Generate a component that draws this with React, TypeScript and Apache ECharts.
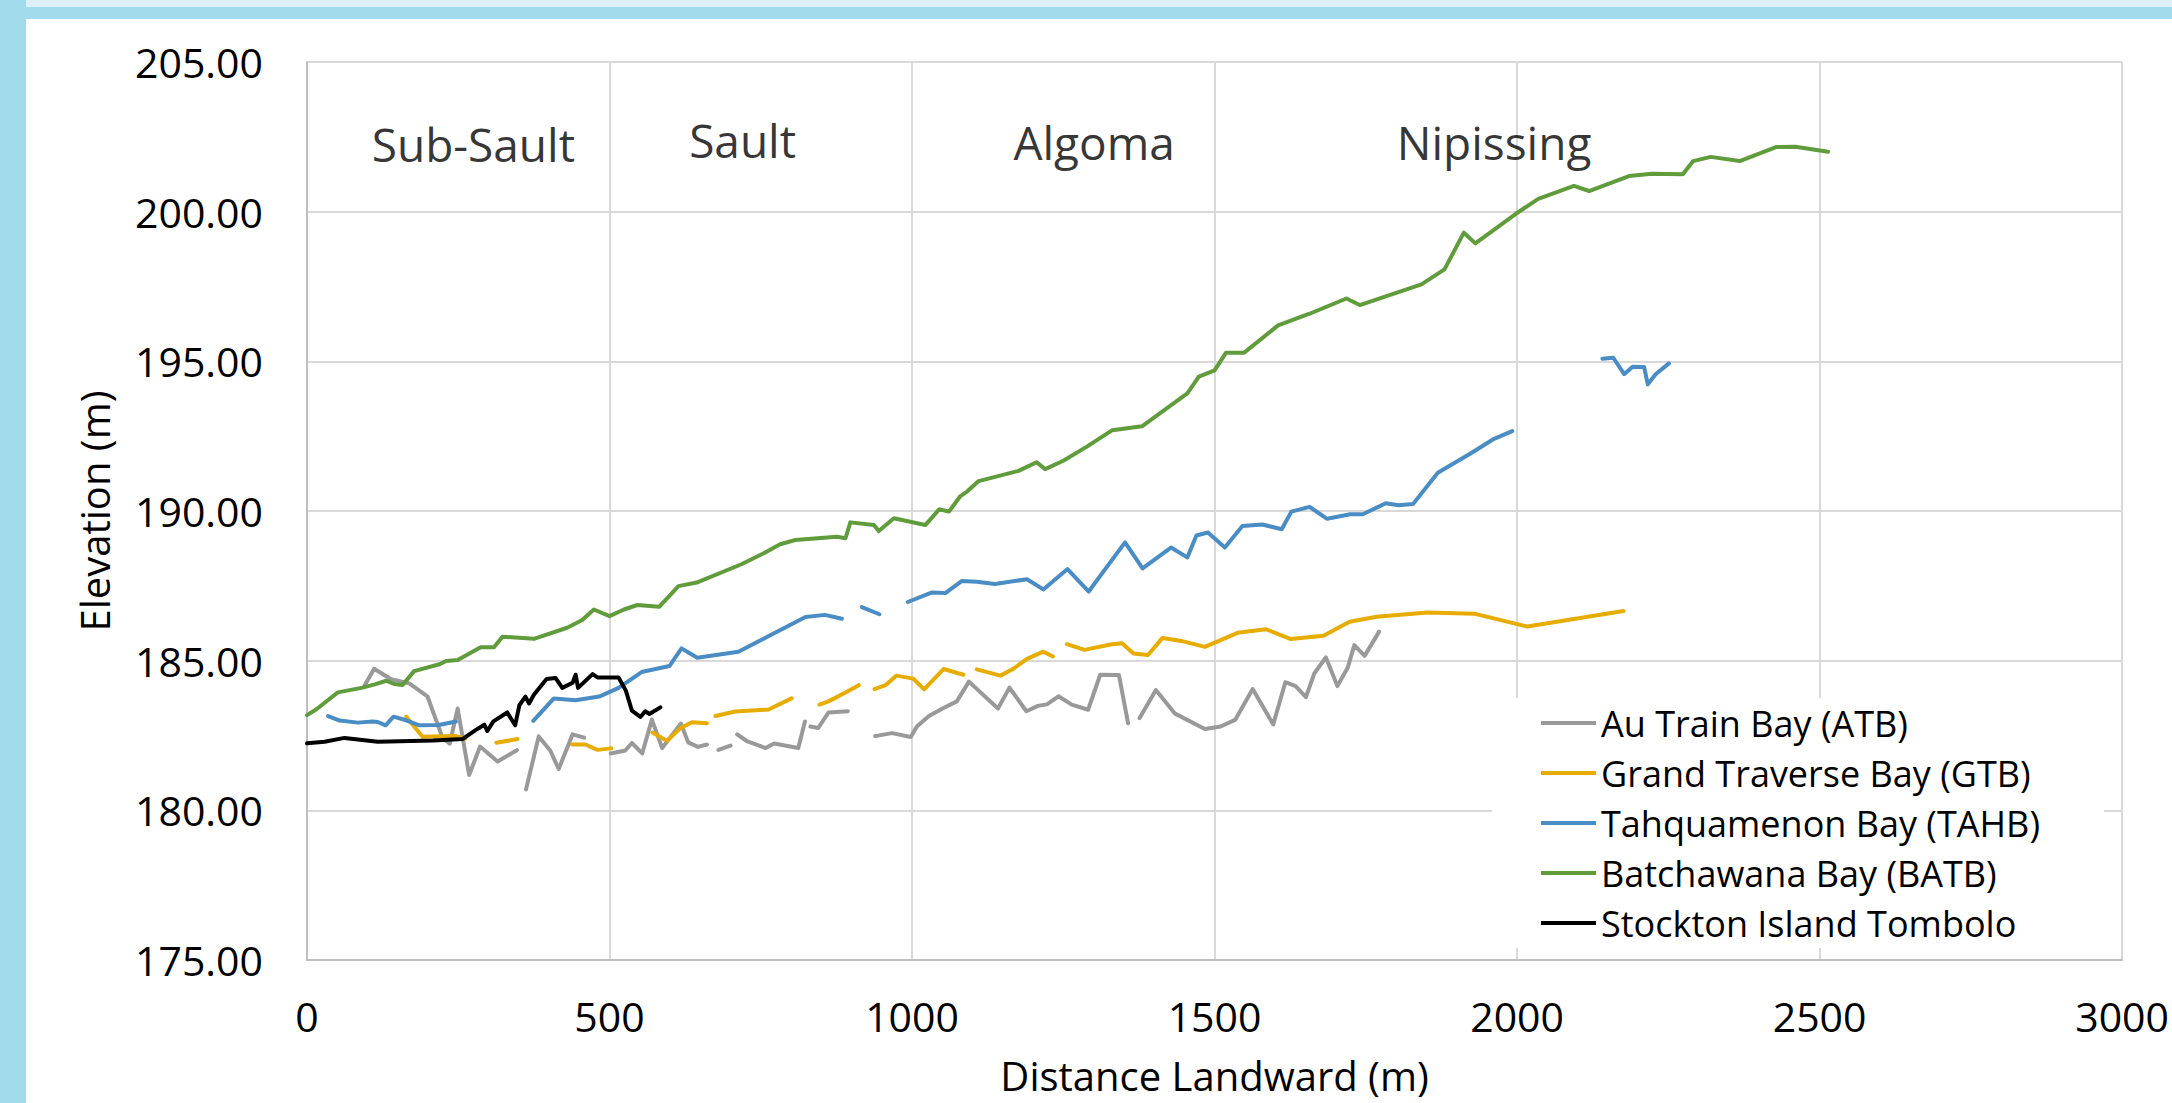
import React, { useEffect, useRef } from "react";
import * as echarts from "echarts";

// ---- data (distance landward m, elevation m); null = gap in the line ----
const ATB: ([number, number] | null)[] = [
  [94, 184.13], [111, 184.73], [139, 184.38], [169, 184.24], [199, 183.81], [224, 182.42], [236, 182.23], [249, 183.4], [268, 181.18], [286, 182.13], [315, 181.63], [347, 182.01],
  null,
  [362, 180.7], [383, 182.47], [402, 182.0], [416, 181.38], [439, 182.54], [458, 182.43],
  null,
  [502, 181.9], [526, 182.0], [537, 182.25], [554, 181.9], [570, 183.03], [587, 182.08], [618, 182.9], [630, 182.27], [646, 182.12], [661, 182.2],
  null,
  [680, 182.02], [700, 182.16],
  null,
  [711, 182.54], [728, 182.3], [758, 182.08], [772, 182.23], [812, 182.08], [823, 182.97],
  null,
  [832, 182.8], [845, 182.75], [862, 183.27], [894, 183.31],
  null,
  [939, 182.48], [967, 182.58], [998, 182.45], [1008, 182.8], [1028, 183.15], [1052, 183.42], [1074, 183.64], [1094, 184.3], [1142, 183.4], [1161, 184.1], [1189, 183.31], [1208, 183.49], [1223, 183.54], [1242, 183.81], [1264, 183.53], [1291, 183.36], [1311, 184.53], [1342, 184.52], [1357, 182.91],
  null,
  [1376, 183.08], [1403, 184.02], [1434, 183.24], [1484, 182.72], [1510, 182.8], [1534, 183.02], [1563, 184.05], [1597, 182.87], [1617, 184.28], [1634, 184.15], [1651, 183.78], [1665, 184.58], [1684, 185.11], [1703, 184.15], [1720, 184.76], [1731, 185.52], [1748, 185.16], [1772, 185.97],
];

const GTB: ([number, number] | null)[] = [
  [164, 183.13], [191, 182.46], [246, 182.48], [262, 182.4],
  null,
  [313, 182.26], [348, 182.38],
  null,
  [438, 182.2], [460, 182.2], [480, 182.02], [503, 182.07],
  null,
  [571, 182.6], [595, 182.32], [617, 182.74], [636, 182.94], [661, 182.91],
  null,
  [675, 183.15], [708, 183.3], [763, 183.37], [801, 183.74],
  null,
  [847, 183.53], [862, 183.64], [890, 183.94], [912, 184.18],
  null,
  [938, 184.05], [956, 184.18], [974, 184.5], [1002, 184.4], [1020, 184.04], [1052, 184.72], [1085, 184.53],
  null,
  [1107, 184.71], [1146, 184.5], [1166, 184.71], [1190, 185.06], [1217, 185.3], [1233, 185.14],
  null,
  [1256, 185.55], [1285, 185.36], [1328, 185.54], [1347, 185.58], [1366, 185.24], [1390, 185.19], [1414, 185.76], [1445, 185.66], [1484, 185.46], [1538, 185.93], [1585, 186.05], [1626, 185.72], [1680, 185.83], [1723, 186.3], [1768, 186.47], [1852, 186.61], [1929, 186.57], [2017, 186.14], [2176, 186.66],
];

const TAHB: ([number, number] | null)[] = [
  [35, 183.15], [54, 183.0], [84, 182.93], [108, 182.97], [117, 182.95], [130, 182.84], [143, 183.13], [165, 183.0], [186, 182.84], [218, 182.85], [246, 182.97],
  null,
  [374, 182.99], [408, 183.74], [444, 183.68], [483, 183.8], [515, 184.09], [553, 184.62], [599, 184.82], [619, 185.41], [645, 185.1], [713, 185.3], [824, 186.46], [856, 186.53], [884, 186.4],
  null,
  [917, 186.79], [946, 186.55],
  null,
  [993, 186.96], [1033, 187.28], [1055, 187.26], [1082, 187.66], [1107, 187.64], [1137, 187.56], [1190, 187.72], [1217, 187.38], [1257, 188.06], [1292, 187.31], [1352, 188.95], [1381, 188.08], [1428, 188.78], [1455, 188.45], [1470, 189.18], [1489, 189.28], [1517, 188.78], [1546, 189.5], [1579, 189.55], [1611, 189.39], [1627, 189.98], [1657, 190.14], [1686, 189.74], [1724, 189.89], [1745, 189.89], [1783, 190.26], [1804, 190.19], [1828, 190.23], [1869, 191.28], [1923, 191.92], [1960, 192.39], [1992, 192.67],
  null,
  [2141, 195.09], [2159, 195.12], [2177, 194.57], [2191, 194.82], [2210, 194.81], [2216, 194.23], [2229, 194.57], [2251, 194.93],
];

const BATB: ([number, number] | null)[] = [
  [0, 183.18], [15, 183.37], [51, 183.94], [92, 184.1], [112, 184.21], [131, 184.33], [144, 184.22], [158, 184.19], [177, 184.65], [219, 184.88], [230, 184.99], [249, 185.02], [287, 185.45], [309, 185.45], [323, 185.8], [375, 185.73], [430, 186.1], [455, 186.36], [474, 186.71], [500, 186.49], [524, 186.71], [546, 186.86], [582, 186.8], [614, 187.49], [644, 187.61], [719, 188.23], [755, 188.59], [782, 188.89], [807, 189.03], [876, 189.14], [890, 189.09], [898, 189.62], [937, 189.53], [945, 189.33], [970, 189.76], [1022, 189.53], [1045, 190.06], [1061, 189.98], [1080, 190.5], [1091, 190.65], [1110, 191.0], [1176, 191.34], [1206, 191.63], [1220, 191.4], [1250, 191.68], [1289, 192.15], [1331, 192.7], [1380, 192.83], [1455, 193.93], [1474, 194.49], [1500, 194.7], [1519, 195.29], [1549, 195.29], [1605, 196.2], [1657, 196.59], [1718, 197.1], [1740, 196.88], [1842, 197.57], [1880, 198.07], [1912, 199.3], [1931, 198.94], [1998, 199.93], [2035, 200.43], [2094, 200.86], [2119, 200.69], [2185, 201.19], [2223, 201.27], [2274, 201.25], [2291, 201.69], [2320, 201.83], [2368, 201.69], [2428, 202.16], [2460, 202.17], [2514, 202.0],
];

const SIT: ([number, number] | null)[] = [
  [0, 182.24], [29, 182.29], [62, 182.42], [117, 182.29], [208, 182.33], [257, 182.38], [278, 182.67], [293, 182.86], [298, 182.65], [308, 182.97], [331, 183.27], [344, 182.84], [351, 183.51], [361, 183.8], [367, 183.57], [375, 183.86], [396, 184.39], [411, 184.42], [422, 184.09], [439, 184.26], [444, 184.53], [448, 184.09], [472, 184.55], [480, 184.44], [515, 184.44], [527, 184.0], [537, 183.33], [551, 183.12], [559, 183.31], [566, 183.22], [584, 183.44],
];

const SERIES_NAMES = [
  "Au Train Bay (ATB)",
  "Grand Traverse Bay (GTB)",
  "Tahquamenon Bay (TAHB)",
  "Batchawana Bay (BATB)",
  "Stockton Island Tombolo",
];
const SERIES_DATA = [ATB, GTB, TAHB, BATB, SIT];
const SERIES_COLORS = ["#999999", "#E6AC00", "#4A8CC4", "#609C3C", "#000000"];

// phase labels (data coordinates)
const PHASE_NAMES = ["Sub-Sault", "Sault", "Algoma", "Nipissing"];
const PHASE_X = [275, 720, 1301, 1962];
const PHASE_Y = [202.25, 202.38, 202.34, 202.34];

// axes
const X_MIN = 0, X_MAX = 3000, X_STEP = 500;
const Y_MIN = 175, Y_MAX = 205, Y_STEP = 5;

const FONT = "'Open Sans', 'Noto Sans', sans-serif";

export default function App() {
  const ref = useRef<HTMLDivElement>(null);
  useEffect(() => {
    if (!ref.current) return;
    const chart = echarts.init(ref.current, undefined, { renderer: "svg" });
    const lineSeries = SERIES_DATA.map((arr, i) => ({
      type: "line",
      name: SERIES_NAMES[i],
      data: arr.map((p) => (p ? p : ["-", "-"])),
      showSymbol: false,
      symbol: "none",
      connectNulls: false,
      lineStyle: { color: SERIES_COLORS[i], width: 4, cap: "round", join: "round" },
      itemStyle: { color: SERIES_COLORS[i] },
      emphasis: { disabled: true },
      z: 2,
    }));
    const option: any = {
      animation: false,
      backgroundColor: "#ffffff",
      textStyle: { fontFamily: FONT },
      graphic: [
        { type: "rect", shape: { x: 0, y: 0, width: 2172, height: 7 }, style: { fill: "#DFF1F8" }, silent: true },
        { type: "rect", shape: { x: 0, y: 7, width: 2172, height: 12 }, style: { fill: "#A2DBEC" }, silent: true },
        { type: "rect", shape: { x: 0, y: 0, width: 26, height: 1103 }, style: { fill: "#A2DBEC" }, silent: true },
      ],
      grid: { left: 307, right: 47, top: 62, bottom: 143, containLabel: false },
      xAxis: {
        type: "value",
        min: X_MIN,
        max: X_MAX,
        interval: X_STEP,
        name: "Distance Landward (m)",
        nameLocation: "middle",
        nameGap: 95,
        nameTextStyle: { fontSize: 40, color: "#000", fontFamily: FONT },
        axisLine: { show: true, lineStyle: { color: "#BFBFBF", width: 2 } },
        axisTick: { show: false },
        axisLabel: { fontSize: 41, color: "#000", margin: 35, fontFamily: FONT, formatter: (v: number) => String(v) },
        splitLine: { show: true, lineStyle: { color: "#D9D9D9", width: 2 } },
      },
      yAxis: {
        type: "value",
        min: Y_MIN,
        max: Y_MAX,
        interval: Y_STEP,
        name: "Elevation (m)",
        nameLocation: "middle",
        nameGap: 193,
        nameTextStyle: { fontSize: 40, color: "#000", fontFamily: FONT },
        axisLine: { show: true, lineStyle: { color: "#BFBFBF", width: 2 } },
        axisTick: { show: false },
        axisLabel: { fontSize: 41, color: "#000", margin: 44, fontFamily: FONT, formatter: (v: number) => v.toFixed(2) },
        splitLine: { show: true, lineStyle: { color: "#D9D9D9", width: 2 } },
      },
      legend: {
        orient: "vertical",
        left: 1492,
        top: 698,
        padding: [5, 64, 5, 49],
        itemGap: 10,
        itemWidth: 55,
        itemHeight: 4,
        icon: "rect",
        backgroundColor: "#ffffff",
        selectedMode: false,
        textStyle: { fontSize: 36, color: "#000", lineHeight: 40, fontFamily: FONT },
        data: SERIES_NAMES,
      },
      series: [
        ...lineSeries,
        {
          type: "scatter",
          name: "phases",
          data: PHASE_NAMES.map((n, i) => [PHASE_X[i], PHASE_Y[i], n]),
          symbolSize: 1,
          itemStyle: { color: "rgba(0,0,0,0)" },
          silent: true,
          label: {
            show: true,
            position: "inside",
            formatter: (p: any) => p.data[2],
            fontSize: 46,
            color: "#000",
            fontFamily: FONT,
          },
          z: 5,
        },
      ],
    };
    chart.setOption(option);
    return () => chart.dispose();
  }, []);
  return (
    <div
      ref={ref}
      style={{ position: "fixed", left: 0, top: 0, width: 2172, height: 1103 }}
    />
  );
}
